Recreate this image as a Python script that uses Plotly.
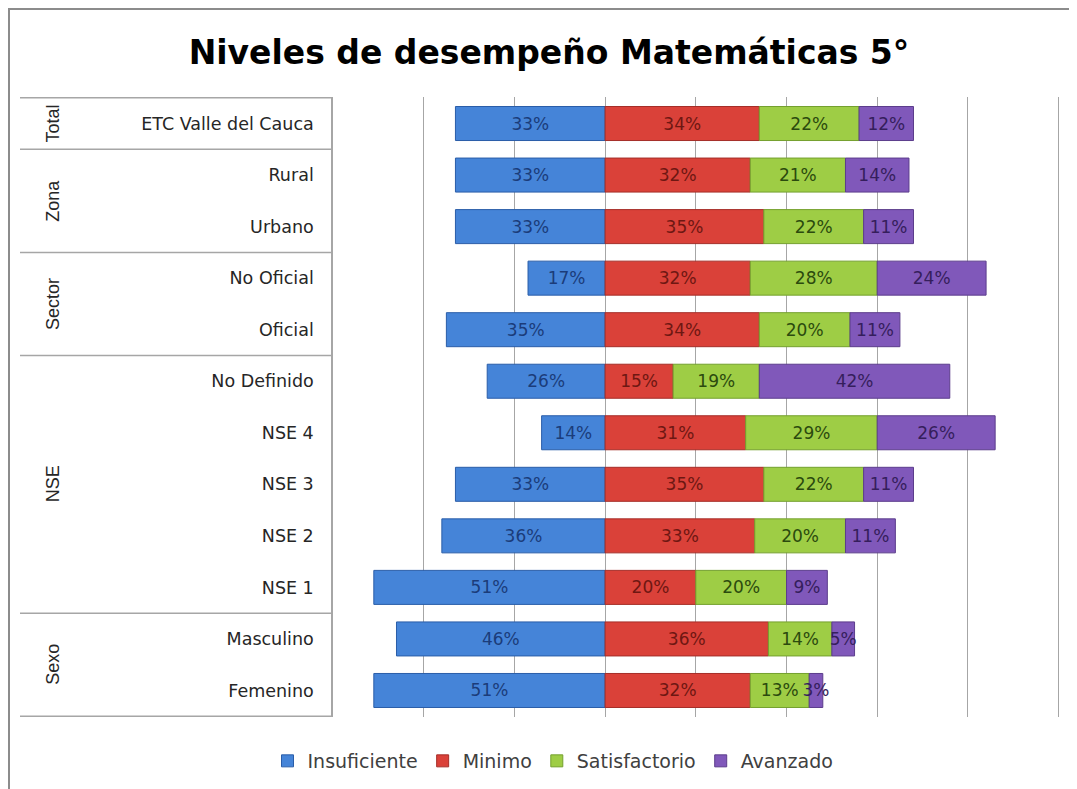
import plotly.graph_objects as go

categories = ["ETC Valle del Cauca", "Rural", "Urbano", "No Oficial", "Oficial",
              "No Definido", "NSE 4", "NSE 3", "NSE 2", "NSE 1", "Masculino", "Femenino"]
insuficiente = [33, 33, 33, 17, 35, 26, 14, 33, 36, 51, 46, 51]
minimo = [34, 32, 35, 32, 34, 15, 31, 35, 33, 20, 36, 32]
satisfactorio = [22, 21, 22, 28, 20, 19, 29, 22, 20, 20, 14, 13]
avanzado = [12, 14, 11, 24, 11, 42, 26, 11, 11, 9, 5, 3]
groups = [("Total", 0, 0), ("Zona", 1, 2), ("Sector", 3, 4), ("NSE", 5, 9), ("Sexo", 10, 11)]
title = "Niveles de desempeño Matemáticas 5°"

W, H = 1077, 789
O = 8  # page body offset
L, R, T, B = 333, 1060, 97, 717  # plot area in screen pixels
pw, ph = R - L, B - T

def px(x):
    return (x - L) / pw

def py(y):
    return (B - y) / ph

series = [
    ("Insuficiente", [-v for v in insuficiente], insuficiente, "#4584D8", "#2A5DA8", "#1B3C7A"),
    ("Minimo", minimo, minimo, "#DA4139", "#A52E28", "#6E1712"),
    ("Satisfactorio", satisfactorio, satisfactorio, "#9ECD45", "#74A02E", "#2B4A0E"),
    ("Avanzado", avanzado, avanzado, "#8058BA", "#5C3D8C", "#351E5C"),
]

fig = go.Figure()
for name, vals, labels, col, lcol, tcol in series:
    fig.add_trace(go.Bar(
        y=categories, x=vals, orientation="h", name=name,
        marker=dict(color=col, line=dict(color=lcol, width=1)),
        text=[f"{v}%" for v in labels], textposition="inside",
        insidetextanchor="middle", constraintext="none", textangle=0,
        textfont=dict(family="DejaVu Sans", size=17, color=tcol),
        hoverinfo="skip",
    ))

shapes = []
bounds = [-0.5, 0.5, 2.5, 4.5, 9.5, 11.5]
for b in bounds:
    shapes.append(dict(type="line", xref="paper", yref="y", x0=px(20), x1=0,
                       y0=b, y1=b, line=dict(color="#A6A6A6", width=1.5)))
shapes.append(dict(type="line", xref="paper", yref="paper", x0=px(9), x1=px(9),
                   y0=py(7), y1=py(800), line=dict(color="#8C8C8C", width=2)))
shapes.append(dict(type="line", xref="paper", yref="paper", x0=px(9), x1=px(1090),
                   y0=py(9), y1=py(9), line=dict(color="#8C8C8C", width=2)))

annotations = []
for gname, i0, i1 in groups:
    annotations.append(dict(
        text=gname, xref="paper", yref="y", x=px(53), y=(i0 + i1) / 2,
        textangle=-90, showarrow=False, xanchor="center", yanchor="middle",
        font=dict(family="Liberation Sans", size=18, color="#262626")))

fig.update_layout(
    width=W, height=H,
    margin=dict(l=L - O, r=W - (R - O), t=T - O, b=H - (B - O)),
    paper_bgcolor="white", plot_bgcolor="white",
    barmode="relative", bargap=0.34,
    title=dict(text=title, xref="container", yref="container",
               x=(549 - O) / W, xanchor="center", y=1 - (52 - O) / H, yanchor="middle",
               font=dict(family="DejaVu Sans", size=33, color="#000000", weight="bold")),
    xaxis=dict(range=[-60, 100.3], dtick=20, tick0=0, showticklabels=False,
               showgrid=True, gridcolor="#A6A6A6", gridwidth=1,
               zeroline=True, zerolinecolor="#A6A6A6", zerolinewidth=1,
               fixedrange=True),
    yaxis=dict(categoryorder="array", categoryarray=categories, autorange="reversed",
               showline=True, linecolor="#A6A6A6", linewidth=1.5,
               ticks="", ticklabelstandoff=14,
               tickfont=dict(family="DejaVu Sans", size=17.5, color="#262626")),
    legend=dict(orientation="h", x=px(553), xanchor="center", y=py(761), yanchor="middle",
                font=dict(family="DejaVu Sans", size=19, color="#404040"),
                traceorder="normal", itemclick=False),
    uniformtext=dict(minsize=17, mode="show"),
    shapes=shapes, annotations=annotations,
)

fig.write_html("out.html")
